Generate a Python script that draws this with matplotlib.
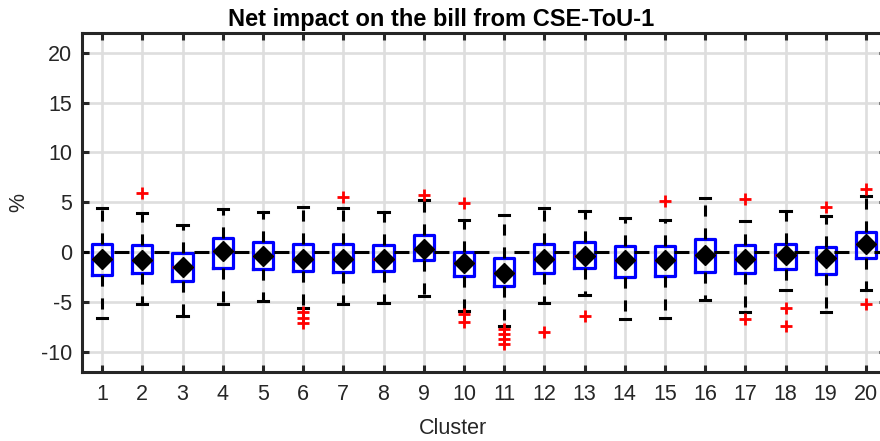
import matplotlib
matplotlib.use("Agg")
import matplotlib.pyplot as plt

plt.rcParams['font.family'] = ['Liberation Sans', 'DejaVu Sans']
plt.rcParams['lines.scale_dashes'] = False
plt.rcParams['axes.unicode_minus'] = False

# values (%)
clusters = list(range(1, 21))
medians = [-0.67, -0.8, -1.5, 0.17, -0.4, -0.63, -0.63, -0.63, 0.33, -1.07,
           -2.07, -0.67, -0.33, -0.73, -0.73, -0.3, -0.63, -0.3, -0.57, 0.83]
q1 = [-2.23, -2.07, -2.9, -1.57, -1.67, -1.9, -2.0, -1.83, -0.8, -2.4,
      -3.4, -2.07, -1.57, -2.47, -2.4, -1.97, -2.07, -1.67, -2.13, -0.57]
q3 = [0.83, 0.77, -0.07, 1.4, 1.07, 0.83, 0.83, 0.77, 1.77, 0.0,
      -0.57, 0.83, 1.0, 0.67, 0.6, 1.33, 0.7, 0.83, 0.53, 2.0]
whisk_lo = [-6.57, -5.17, -6.4, -5.23, -4.93, -5.63, -5.17, -5.07, -4.4, -5.93,
            -7.43, -5.07, -4.3, -6.73, -6.57, -4.83, -6.0, -3.83, -5.97, -3.8]
whisk_hi = [4.43, 3.93, 2.77, 4.33, 4.0, 4.5, 4.43, 4.0, 5.2, 3.27,
            3.7, 4.43, 4.17, 3.43, 3.27, 5.43, 3.1, 4.1, 3.6, 5.6]
outliers = [[], [5.93], [], [], [], [-6.0, -6.57, -7.07],
            [5.53], [], [5.7], [4.93, -6.2, -7.0],
            [-7.7, -8.2, -8.7, -9.2], [-8.0], [-6.4], [], [5.17],
            [], [5.33, -6.67], [-5.57, -7.4], [4.5], [6.33, -5.17]]
means = medians

stats = []
for i in range(len(clusters)):
    stats.append(dict(med=medians[i], q1=q1[i], q3=q3[i],
                      whislo=whisk_lo[i], whishi=whisk_hi[i],
                      fliers=outliers[i], mean=means[i]))

fig = plt.figure(figsize=(8.8, 4.41), dpi=100)
ax = fig.add_axes([82/880, 1 - 372/441, (886 - 82)/880, (372 - 32.7)/441])

ax.grid(True, color='#dedede', lw=1.9, zorder=0)
ax.set_axisbelow(True)

ax.axhline(0, color='k', lw=2.2, linestyle=(5.8, (10.8, 18)), zorder=2.5)

ax.bxp(stats, positions=clusters, widths=0.5, showmeans=True,
       boxprops=dict(color='#0000ff', lw=2.3, solid_joinstyle='round'),
       whiskerprops=dict(color='k', lw=2.2, linestyle=(0, (8, 8.5))),
       capprops=dict(color='k', lw=2.2),
       medianprops=dict(color='red', lw=2),
       meanprops=dict(marker='D', markerfacecolor='k', markeredgecolor='k',
                      markersize=10),
       flierprops=dict(marker='+', markeredgecolor='red', markersize=9,
                       markeredgewidth=2, linestyle='none'))

ax.set_xlim(0.5, 20.5)
ax.set_ylim(-12, 22)
ax.set_xticks(clusters)
ax.set_xticklabels([str(c) for c in clusters])
ax.set_yticks([-10, -5, 0, 5, 10, 15, 20])

for s in ax.spines.values():
    s.set_linewidth(2.2)
    s.set_color('#262626')
ax.tick_params(direction='in', length=5, width=2.2, color='#262626',
               labelcolor='#262626', labelsize=15.5, top=True, right=True)
ax.tick_params(axis='x', pad=9)
ax.tick_params(axis='y', pad=7)

fig.text(441/880, 1 - 26/441, 'Net impact on the bill from CSE-ToU-1',
         ha='center', va='baseline', fontsize=17, fontweight='bold')
fig.text(453/880, 1 - 429/441, 'Cluster', ha='center', va='center',
         fontsize=15.5, color='#262626')
fig.text(19/880, 1 - 203/441, '%', ha='center', va='center', rotation=90,
         fontsize=15.5, color='#262626')

fig.savefig('out.png', dpi=100)
